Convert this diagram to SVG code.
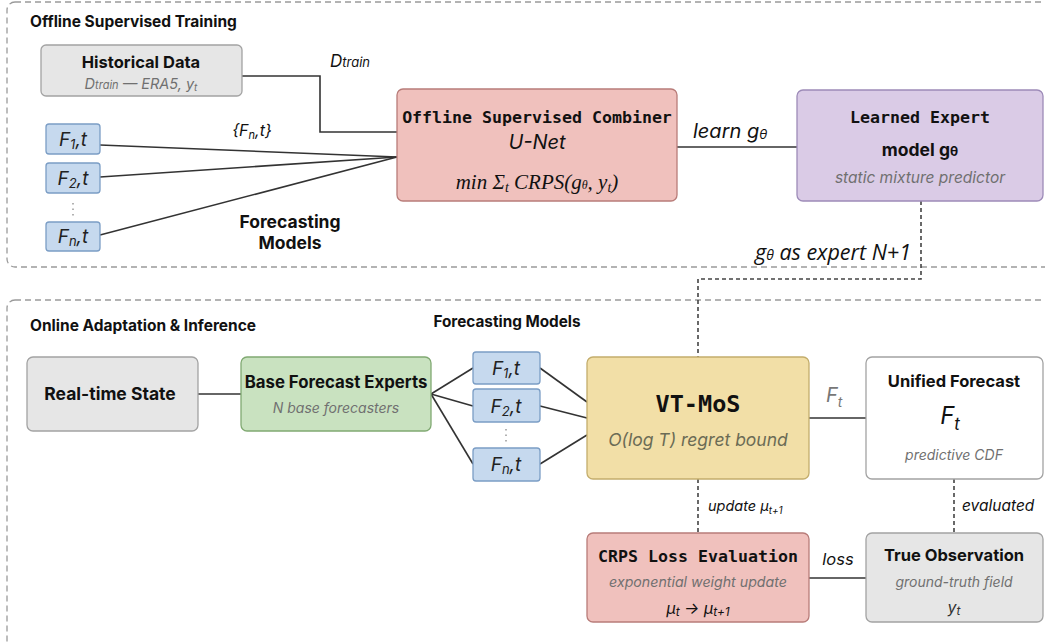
<svg xmlns="http://www.w3.org/2000/svg" width="1045" height="644" viewBox="0 0 1045 644">
<style>
.container{fill:none;stroke:#9a9a9a;stroke-width:1.3;stroke-dasharray:6 4}
.sec{font-family:Inter,"Liberation Sans",sans-serif;font-weight:700;font-size:15.5px;fill:#111}
.box{stroke-width:1.3}
.gray{fill:#e6e6e6;stroke:#a3a3a3}
.blue{fill:#c6d9ee;stroke:#7b9dc5}
.pink{fill:#f0c1bd;stroke:#b87c79}
.purple{fill:#dacbe6;stroke:#9d8bb8}
.green{fill:#c9e2c0;stroke:#80a972}
.yellow{fill:#f2dfa7;stroke:#c3ad6c}
.white{fill:#ffffff;stroke:#a3a3a3}
.title{font-family:Inter,"Liberation Sans",sans-serif;font-weight:700;fill:#111;text-anchor:middle}
.mono{font-family:"DejaVu Sans Mono","Liberation Mono",monospace;font-weight:700;fill:#111;text-anchor:middle}
.sub{font-family:Inter,"Liberation Sans",sans-serif;font-style:italic;fill:#707070;text-anchor:middle}
.it{font-family:Inter,"Liberation Sans",sans-serif;font-style:italic;fill:#111}
.fl{font-family:Inter,"Liberation Sans",sans-serif;font-style:italic;font-size:19px;fill:#222;text-anchor:middle}
.serif{font-family:"Liberation Serif","DejaVu Serif",serif;font-style:italic;font-size:21px;fill:#111;text-anchor:middle}
.line{fill:none;stroke:#333;stroke-width:1.6}
.dash{fill:none;stroke:#444;stroke-width:1.6;stroke-dasharray:4 3}
.dots{fill:none;stroke:#999;stroke-width:1.5;stroke-dasharray:1.5 4}
</style>

<rect class="container" x="7" y="2" width="1070" height="265" rx="8"/>
<rect class="container" x="7" y="300" width="1070" height="380" rx="8"/>
<text class="sec" x="30" y="27">Offline Supervised Training</text>
<text class="sec" x="30" y="331">Online Adaptation &amp; Inference</text>

<g id="connectors">
  <polyline class="line" points="242,76 320,76 320,132 397,132"/>
  <line class="line" x1="100" y1="145" x2="397" y2="157"/>
  <line class="line" x1="100" y1="177" x2="397" y2="157"/>
  <line class="line" x1="100" y1="235" x2="397" y2="157"/>
  <line class="line" x1="677" y1="147" x2="797" y2="147"/>
  <polyline class="dash" points="921,201 921,279 698,279 698,357"/>
  <line class="line" x1="198" y1="394" x2="241" y2="394"/>
  <line class="line" x1="431" y1="394" x2="473" y2="368"/>
  <line class="line" x1="431" y1="394" x2="473" y2="406"/>
  <line class="line" x1="431" y1="394" x2="473" y2="464"/>
  <line class="line" x1="540" y1="368" x2="587" y2="402"/>
  <line class="line" x1="540" y1="406" x2="587" y2="418"/>
  <line class="line" x1="540" y1="464" x2="587" y2="435"/>
  <line class="line" x1="809" y1="418" x2="866" y2="418"/>
  <line class="dash" x1="698" y1="479" x2="698" y2="533"/>
  <line class="dash" x1="954" y1="479" x2="954" y2="533"/>
  <line class="line" x1="809" y1="578" x2="866" y2="578"/>
  <text class="it" x="330" y="67" style="font-size:17px">D<tspan style="font-size:13px">train</tspan></text>
  <text class="it" x="252" y="136" style="font-size:16px" text-anchor="middle">{F<tspan style="font-size:11px" dy="3">n</tspan><tspan dy="-3">,t}</tspan></text>
  <text class="title" x="290" y="228" style="font-size:17.5px">Forecasting</text>
  <text class="title" x="290" y="249" style="font-size:17.5px">Models</text>
  <text class="it" x="693" y="138" style="font-size:20px">learn g<tspan style="font-size:13px" dy="1">θ</tspan></text>
  <text class="it" x="911" y="260" text-anchor="end" style="font-size:21.5px;font-family:'Open Sans',Inter,sans-serif">g<tspan style="font-size:14px">θ</tspan> as expert N+1</text>
  <text class="title" x="507" y="327" style="font-size:15.3px">Forecasting Models</text>
  <text class="it" x="826" y="402" style="font-size:20px;fill:#777">F<tspan style="font-size:14px" dy="5">t</tspan></text>
  <text class="it" x="708" y="511" style="font-size:14.5px">update μ<tspan style="font-size:10px" dy="3">t+1</tspan></text>
  <text class="it" x="962" y="511" style="font-size:15.5px">evaluated</text>
  <text class="it" x="838" y="565" text-anchor="middle" style="font-size:16.5px">loss</text>
</g>

<g id="historical-data">
  <rect class="box gray" x="41" y="45" width="201" height="51" rx="5"/>
  <text class="title" x="141" y="68" style="font-size:16.5px">Historical Data</text>
  <text class="sub" x="141" y="89" style="font-size:14.5px">D<tspan style="font-size:11px">train</tspan> — ERA5, y<tspan style="font-size:10px" dy="2">t</tspan></text>
</g>

<g id="f1-top">
  <rect class="box blue" x="46" y="124" width="54" height="30" rx="3"/>
  <text class="fl" x="73" y="146">F<tspan style="font-size:13px" dy="3">1</tspan><tspan dy="-3">,t</tspan></text>
</g>
<g id="f2-top">
  <rect class="box blue" x="46" y="163" width="54" height="30" rx="3"/>
  <text class="fl" x="73" y="185">F<tspan style="font-size:13px" dy="3">2</tspan><tspan dy="-3">,t</tspan></text>
</g>
<line class="dots" x1="73" y1="203" x2="73" y2="217"/>
<g id="fn-top">
  <rect class="box blue" x="46" y="222" width="54" height="29" rx="3"/>
  <text class="fl" x="73" y="243">F<tspan style="font-size:13px" dy="3">n</tspan><tspan dy="-3">,t</tspan></text>
</g>

<g id="offline-combiner">
  <rect class="box pink" x="397" y="89" width="280" height="112" rx="6"/>
  <text class="mono" x="537" y="123" style="font-size:16.6px">Offline Supervised Combiner</text>
  <text class="it" x="537" y="149" text-anchor="middle" style="font-size:20px">U-Net</text>
  <text class="serif" x="537" y="189">min Σ<tspan style="font-size:14px" dy="3">t</tspan><tspan dy="-3"> CRPS(g</tspan><tspan style="font-size:12px">θ</tspan>, y<tspan style="font-size:14px" dy="3">t</tspan><tspan dy="-3">)</tspan></text>
</g>

<g id="learned-expert">
  <rect class="box purple" x="797" y="90" width="246" height="111" rx="6"/>
  <text class="mono" x="920" y="123" style="font-size:16.6px">Learned Expert</text>
  <text class="title" x="920" y="156" style="font-size:17.5px">model g<tspan style="font-size:13px">θ</tspan></text>
  <text class="sub" x="920" y="183" style="font-size:15.5px">static mixture predictor</text>
</g>

<g id="real-time-state">
  <rect class="box gray" x="27" y="357" width="171" height="74" rx="6"/>
  <text class="title" x="110" y="400" style="font-size:17.5px">Real-time State</text>
</g>

<g id="base-forecast-experts">
  <rect class="box green" x="241" y="357" width="190" height="74" rx="6"/>
  <text class="title" x="336" y="388" style="font-size:16.8px">Base Forecast Experts</text>
  <text class="sub" x="336" y="413" style="font-size:14px">N base forecasters</text>
</g>

<g id="f1-bottom">
  <rect class="box blue" x="473" y="352" width="67" height="32" rx="3"/>
  <text class="fl" x="506" y="375">F<tspan style="font-size:13px" dy="3">1</tspan><tspan dy="-3">,t</tspan></text>
</g>
<g id="f2-bottom">
  <rect class="box blue" x="473" y="389" width="67" height="33" rx="3"/>
  <text class="fl" x="506" y="413">F<tspan style="font-size:13px" dy="3">2</tspan><tspan dy="-3">,t</tspan></text>
</g>
<line class="dots" x1="506" y1="429" x2="506" y2="443"/>
<g id="fn-bottom">
  <rect class="box blue" x="473" y="448" width="67" height="33" rx="3"/>
  <text class="fl" x="506" y="471">F<tspan style="font-size:13px" dy="3">n</tspan><tspan dy="-3">,t</tspan></text>
</g>

<g id="vt-mos">
  <rect class="box yellow" x="587" y="357" width="222" height="122" rx="6"/>
  <text class="mono" x="698" y="412" style="font-size:23.5px">VT-MoS</text>
  <text class="it" x="698" y="446" text-anchor="middle" style="font-size:17.5px;fill:#6b6b55">O(log T) regret bound</text>
</g>

<g id="unified-forecast">
  <rect class="box white" x="866" y="357" width="177" height="122" rx="6"/>
  <text class="title" x="954" y="387" style="font-size:16.5px">Unified Forecast</text>
  <text class="it" x="950" y="424" text-anchor="middle" style="font-size:24px">F<tspan style="font-size:17px" dy="6">t</tspan></text>
  <text class="sub" x="954" y="460" style="font-size:14px">predictive CDF</text>
</g>

<g id="crps-loss">
  <rect class="box pink" x="587" y="533" width="222" height="89" rx="6"/>
  <text class="mono" x="698" y="562" style="font-size:16.6px">CRPS Loss Evaluation</text>
  <text class="sub" x="698" y="587" style="font-size:14.2px">exponential weight update</text>
  <text class="it" x="698" y="614" text-anchor="middle" style="font-size:16px">μ<tspan style="font-size:12px" dy="2">t</tspan><tspan dy="-2"> → μ</tspan><tspan style="font-size:12px" dy="2">t+1</tspan></text>
</g>

<g id="true-observation">
  <rect class="box gray" x="866" y="533" width="177" height="89" rx="6"/>
  <text class="title" x="954" y="561" style="font-size:16.5px">True Observation</text>
  <text class="sub" x="954" y="587" style="font-size:14px">ground-truth field</text>
  <text class="it" x="954" y="613" text-anchor="middle" style="font-size:16px;fill:#333">y<tspan style="font-size:12px" dy="2">t</tspan></text>
</g>
</svg>
